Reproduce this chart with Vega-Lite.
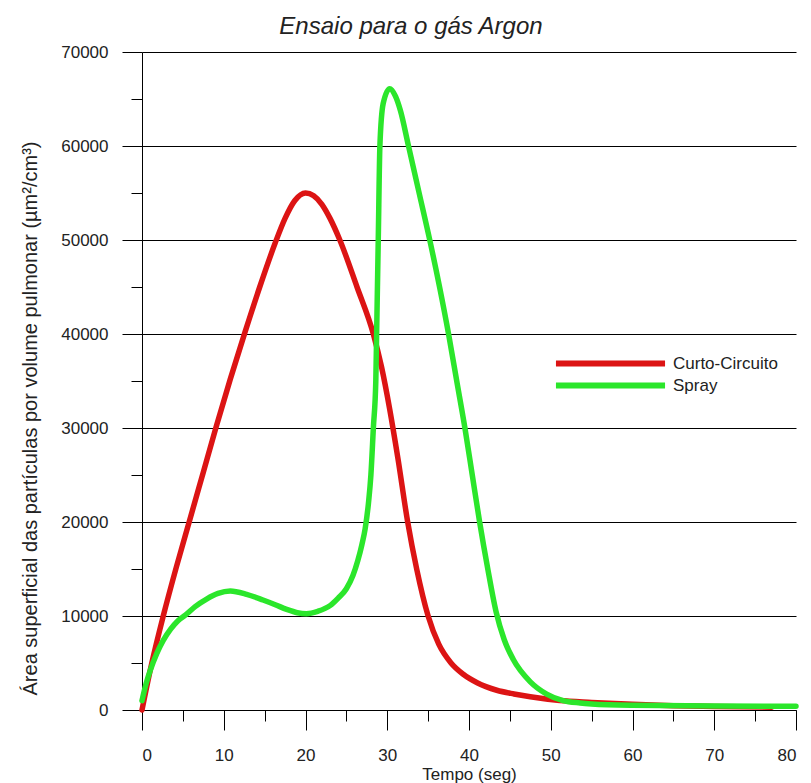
{
  "$schema": "https://vega.github.io/schema/vega-lite/v6.json",
  "width": 654,
  "height": 658,
  "autosize": {"type": "none"},
  "padding": {"left": 142, "top": 52, "right": 15, "bottom": 73},
  "background": "white",
  "title": {"text": "Ensaio para o gás Argon", "font": "Liberation Sans", "fontStyle": "italic", "fontWeight": "normal", "fontSize": 24, "color": "#222", "anchor": "middle", "dx": -58, "offset": 4},
  "config": {"view": {"stroke": null}},
  "data": {"values": [
    {"t": 0, "v": 0, "s": "Curto-Circuito"},
    {"t": 1.2, "v": 5000, "s": "Curto-Circuito"},
    {"t": 2.6, "v": 10000, "s": "Curto-Circuito"},
    {"t": 4.2, "v": 15200, "s": "Curto-Circuito"},
    {"t": 5.9, "v": 20400, "s": "Curto-Circuito"},
    {"t": 7.5, "v": 25300, "s": "Curto-Circuito"},
    {"t": 9.1, "v": 30200, "s": "Curto-Circuito"},
    {"t": 10.8, "v": 35200, "s": "Curto-Circuito"},
    {"t": 12.6, "v": 40200, "s": "Curto-Circuito"},
    {"t": 14.4, "v": 45000, "s": "Curto-Circuito"},
    {"t": 16.3, "v": 49700, "s": "Curto-Circuito"},
    {"t": 17.5, "v": 52300, "s": "Curto-Circuito"},
    {"t": 18.7, "v": 54200, "s": "Curto-Circuito"},
    {"t": 20.0, "v": 55000, "s": "Curto-Circuito"},
    {"t": 21.0, "v": 54700, "s": "Curto-Circuito"},
    {"t": 22.0, "v": 53800, "s": "Curto-Circuito"},
    {"t": 23.0, "v": 52300, "s": "Curto-Circuito"},
    {"t": 24.2, "v": 50000, "s": "Curto-Circuito"},
    {"t": 26.3, "v": 45000, "s": "Curto-Circuito"},
    {"t": 28.3, "v": 40000, "s": "Curto-Circuito"},
    {"t": 29.3, "v": 36500, "s": "Curto-Circuito"},
    {"t": 30.3, "v": 32000, "s": "Curto-Circuito"},
    {"t": 31.3, "v": 26800, "s": "Curto-Circuito"},
    {"t": 32.5, "v": 20000, "s": "Curto-Circuito"},
    {"t": 33.6, "v": 15000, "s": "Curto-Circuito"},
    {"t": 35.0, "v": 10000, "s": "Curto-Circuito"},
    {"t": 36.3, "v": 7000, "s": "Curto-Circuito"},
    {"t": 37.8, "v": 5000, "s": "Curto-Circuito"},
    {"t": 39.3, "v": 3800, "s": "Curto-Circuito"},
    {"t": 41.0, "v": 2900, "s": "Curto-Circuito"},
    {"t": 43.4, "v": 2100, "s": "Curto-Circuito"},
    {"t": 45.5, "v": 1700, "s": "Curto-Circuito"},
    {"t": 47.5, "v": 1400, "s": "Curto-Circuito"},
    {"t": 51.1, "v": 1000, "s": "Curto-Circuito"},
    {"t": 55, "v": 800, "s": "Curto-Circuito"},
    {"t": 60, "v": 600, "s": "Curto-Circuito"},
    {"t": 65, "v": 450, "s": "Curto-Circuito"},
    {"t": 70, "v": 380, "s": "Curto-Circuito"},
    {"t": 77, "v": 300, "s": "Curto-Circuito"},
    {"t": 0, "v": 1000, "s": "Spray"},
    {"t": 0.5, "v": 2800, "s": "Spray"},
    {"t": 1.0, "v": 4200, "s": "Spray"},
    {"t": 1.8, "v": 6000, "s": "Spray"},
    {"t": 2.6, "v": 7400, "s": "Spray"},
    {"t": 3.5, "v": 8600, "s": "Spray"},
    {"t": 4.4, "v": 9500, "s": "Spray"},
    {"t": 5.3, "v": 10100, "s": "Spray"},
    {"t": 6.5, "v": 11000, "s": "Spray"},
    {"t": 7.9, "v": 11800, "s": "Spray"},
    {"t": 9.3, "v": 12400, "s": "Spray"},
    {"t": 10.8, "v": 12650, "s": "Spray"},
    {"t": 12.8, "v": 12300, "s": "Spray"},
    {"t": 14.8, "v": 11700, "s": "Spray"},
    {"t": 16.3, "v": 11200, "s": "Spray"},
    {"t": 17.7, "v": 10700, "s": "Spray"},
    {"t": 19.0, "v": 10350, "s": "Spray"},
    {"t": 20.1, "v": 10250, "s": "Spray"},
    {"t": 21.5, "v": 10500, "s": "Spray"},
    {"t": 23.0, "v": 11100, "s": "Spray"},
    {"t": 24.0, "v": 11900, "s": "Spray"},
    {"t": 25.0, "v": 12900, "s": "Spray"},
    {"t": 25.8, "v": 14300, "s": "Spray"},
    {"t": 26.4, "v": 15900, "s": "Spray"},
    {"t": 26.9, "v": 17600, "s": "Spray"},
    {"t": 27.3, "v": 19300, "s": "Spray"},
    {"t": 27.7, "v": 22000, "s": "Spray"},
    {"t": 28.0, "v": 25000, "s": "Spray"},
    {"t": 28.3, "v": 30000, "s": "Spray"},
    {"t": 28.6, "v": 35000, "s": "Spray"},
    {"t": 28.7, "v": 40000, "s": "Spray"},
    {"t": 28.9, "v": 50000, "s": "Spray"},
    {"t": 29.1, "v": 60000, "s": "Spray"},
    {"t": 29.5, "v": 64500, "s": "Spray"},
    {"t": 30.3, "v": 66100, "s": "Spray"},
    {"t": 31.0, "v": 65300, "s": "Spray"},
    {"t": 31.6, "v": 63800, "s": "Spray"},
    {"t": 32.6, "v": 60000, "s": "Spray"},
    {"t": 33.9, "v": 55000, "s": "Spray"},
    {"t": 35.2, "v": 50000, "s": "Spray"},
    {"t": 36.4, "v": 45000, "s": "Spray"},
    {"t": 37.5, "v": 40000, "s": "Spray"},
    {"t": 38.5, "v": 35000, "s": "Spray"},
    {"t": 39.5, "v": 30000, "s": "Spray"},
    {"t": 40.4, "v": 25000, "s": "Spray"},
    {"t": 41.3, "v": 20000, "s": "Spray"},
    {"t": 42.3, "v": 15000, "s": "Spray"},
    {"t": 43.3, "v": 10500, "s": "Spray"},
    {"t": 44.3, "v": 7500, "s": "Spray"},
    {"t": 45.4, "v": 5400, "s": "Spray"},
    {"t": 47.5, "v": 3000, "s": "Spray"},
    {"t": 49.5, "v": 1700, "s": "Spray"},
    {"t": 51.5, "v": 1000, "s": "Spray"},
    {"t": 53.6, "v": 750, "s": "Spray"},
    {"t": 55, "v": 650, "s": "Spray"},
    {"t": 60, "v": 500, "s": "Spray"},
    {"t": 70, "v": 420, "s": "Spray"},
    {"t": 80, "v": 400, "s": "Spray"}
  ]},
  "mark": {"type": "line", "strokeWidth": 5.5, "strokeCap": "round", "strokeJoin": "round", "interpolate": "monotone", "clip": false},
  "encoding": {
    "x": {
      "field": "t", "type": "quantitative",
      "scale": {"domain": [0, 80], "nice": false, "zero": false},
      "axis": {
        "values": [0, 5, 10, 15, 20, 25, 30, 35, 40, 45, 50, 55, 60, 65, 70, 75, 80],
        "labelExpr": "datum.value % 10 === 0 ? datum.label : ''",
        "tickSize": {"condition": {"test": "datum.value % 10 === 0", "value": 20}, "value": 11},
        "grid": false,
        "domainColor": "#000", "tickColor": "#000", "domainWidth": 1, "tickWidth": 1,
        "labelFont": "Liberation Sans", "labelFontSize": 17, "labelColor": "#222", "labelPadding": 17,
        "title": "Tempo (seg)", "titleFont": "Liberation Sans", "titleFontSize": 17, "titleFontWeight": "normal", "titleColor": "#222", "titlePadding": 3
      }
    },
    "y": {
      "field": "v", "type": "quantitative",
      "scale": {"domain": [0, 70000], "nice": false},
      "axis": {
        "values": [0, 5000, 10000, 15000, 20000, 25000, 30000, 35000, 40000, 45000, 50000, 55000, 60000, 65000, 70000],
        "format": "d",
        "labelExpr": "datum.value % 10000 === 0 ? datum.label : ''",
        "tickSize": {"condition": {"test": "datum.value % 10000 === 0", "value": 20}, "value": 11},
        "grid": true, "gridColor": "#000", "gridWidth": 1,
        "gridOpacity": {"condition": {"test": "datum.value % 10000 === 0", "value": 1}, "value": 0},
        "domainColor": "#000", "tickColor": "#000", "domainWidth": 1, "tickWidth": 1,
        "labelFont": "Liberation Sans", "labelFontSize": 17, "labelColor": "#222", "labelPadding": 14,
        "title": "Área superficial das partículas por volume pulmonar (µm²/cm³)", "titleFont": "Liberation Sans", "titleFontSize": 20, "titleFontWeight": "normal", "titleColor": "#222", "titlePadding": 20, "titleY": 366
      }
    },
    "color": {
      "field": "s", "type": "nominal",
      "scale": {"domain": ["Curto-Circuito", "Spray"], "range": ["#dc1414", "#2be62b"]},
      "legend": {
        "orient": "none", "legendX": 460, "legendY": 303, "title": null, "padding": 0,
        "symbolType": "M-10,0H10", "symbolSize": 119, "symbolStrokeWidth": 6,
        "labelOffset": 54, "rowPadding": -3,
        "labelFont": "Liberation Sans", "labelFontSize": 17, "labelColor": "#222"
      }
    }
  }
}
